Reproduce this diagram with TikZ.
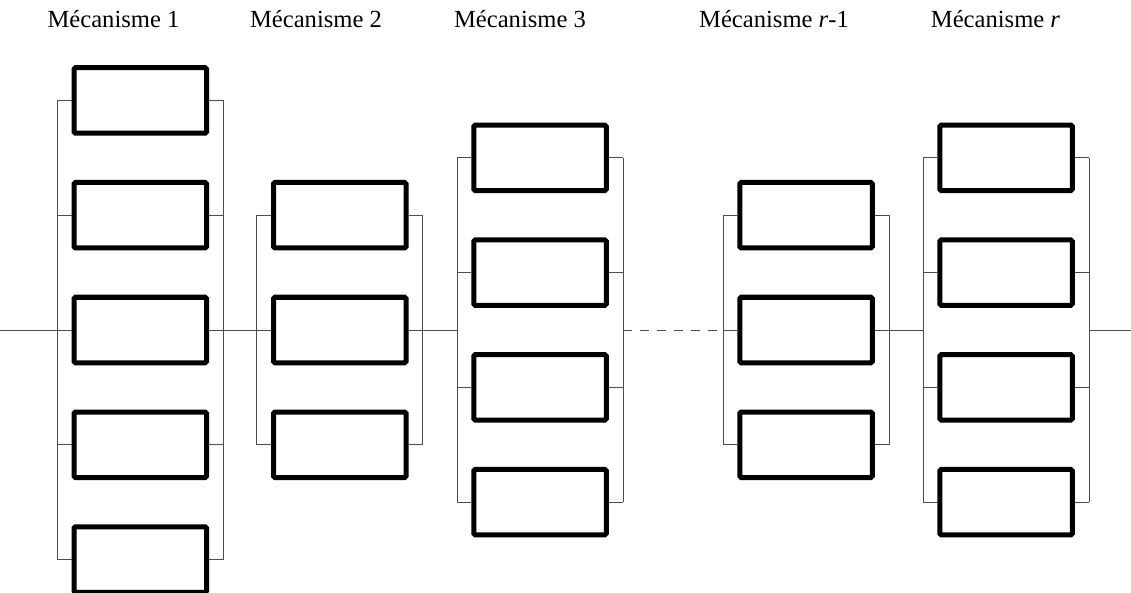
\documentclass[tikz,border=0pt]{standalone}
\usepackage{fontspec}
\setmainfont{Liberation Serif}
\begin{document}
\begin{tikzpicture}[x=1pt,y=-1pt,
  blk/.style={draw=black,line width=5pt,rounded corners=1.5pt,minimum width=132.5pt,minimum height=65.5pt,inner sep=0pt,fill=white},
  wire/.style={draw=black!70,line width=1pt},
  lbl/.style={font=\fontsize{24.6}{28}\selectfont,anchor=base,inner sep=0pt}]
\useasboundingbox (0,0) rectangle (1131,593);
% labels
\node[lbl] (t1) at (113.5,28) {Mécanisme 1};
\node[lbl] (t2) at (316,28) {Mécanisme 2};
\node[lbl] (t3) at (520,28) {Mécanisme 3};
\node[lbl] (t4) at (774,28) {Mécanisme \textit{r}-1};
\node[lbl] (t5) at (995.5,28) {Mécanisme \textit{r}};
% rail reference coordinates
\coordinate (aL) at (57,330);  \coordinate (aR) at (223,330);
\coordinate (bL) at (256.5,330); \coordinate (bR) at (422.5,330);
\coordinate (cL) at (457,330); \coordinate (cR) at (623,330);
\coordinate (dL) at (723,330); \coordinate (dR) at (889,330);
\coordinate (eL) at (923,330); \coordinate (eR) at (1089,330);
\coordinate (start) at (0,330); \coordinate (stop) at (1131,330);
% mechanism 1
\foreach \i/\y in {1/100.5,2/215.25,3/330,4/444.75,5/559.5}
  \node[blk] (a\i) at (140.25,\y) {};
% mechanism 2
\foreach \i/\y in {1/215.25,2/330,3/444.75}
  \node[blk] (b\i) at (339.75,\y) {};
% mechanism 3
\foreach \i/\y in {1/157.8,2/272.6,3/387.4,4/502.2}
  \node[blk] (c\i) at (540,\y) {};
% mechanism r-1
\foreach \i/\y in {1/215.25,2/330,3/444.75}
  \node[blk] (d\i) at (806,\y) {};
% mechanism r
\foreach \i/\y in {1/157.8,2/272.6,3/387.4,4/502.2}
  \node[blk] (e\i) at (1006,\y) {};
% stubs
\foreach \m/\n in {a/5,b/3,c/4,d/3,e/4}{
  \foreach \i in {1,...,\n}{
    \draw[wire] (\m\i.west) -- (\m\i.west -| \m L);
    \draw[wire] (\m\i.east) -- (\m\i.east -| \m R);
  }
  \draw[wire] (\m1.west -| \m L) -- (\m\n.west -| \m L);
  \draw[wire] (\m1.east -| \m R) -- (\m\n.east -| \m R);
}
% series links
\draw[wire] (start) -- (aL);
\draw[wire] (aR) -- (bL);
\draw[wire] (bR) -- (cL);
\draw[wire,dash pattern=on 9pt off 8pt] (cR) -- (dL);
\draw[wire] (dR) -- (eL);
\draw[wire] (eR) -- (stop);
\end{tikzpicture}
\end{document}
